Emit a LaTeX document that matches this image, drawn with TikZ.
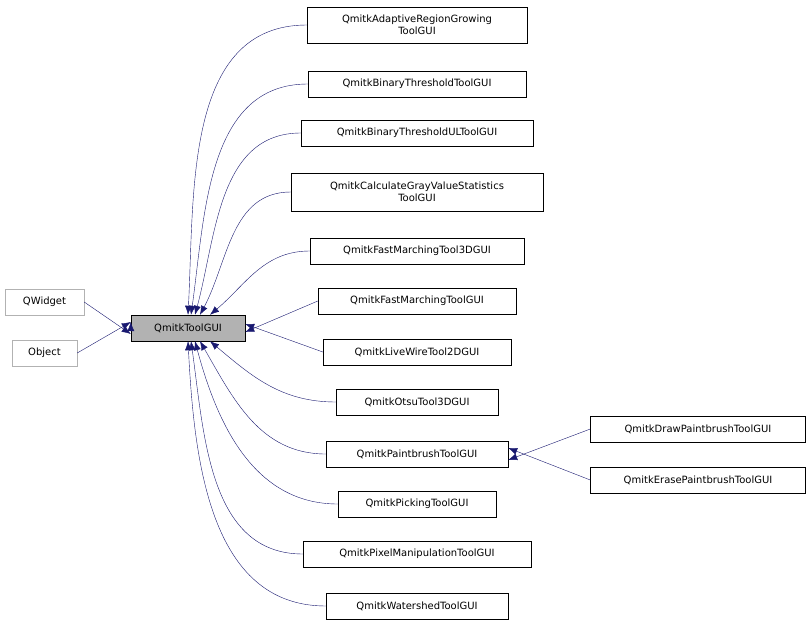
\documentclass[tikz,border=0pt]{standalone}
\usepackage{fontspec}
\setmainfont{DejaVu Sans}
\usetikzlibrary{arrows.meta}
\definecolor{edgeblue}{HTML}{191970}

\begin{document}
\begin{tikzpicture}[x=1pt,y=-1pt,
    every node/.style={draw, inner sep=0pt, font=\fontsize{10}{12}\selectfont, align=center, minimum height=26pt},
    ext/.style={draw=gray!60},
    edge/.style={draw=edgeblue, -{Latex[length=9pt,width=7pt]}}]
    \useasboundingbox (0,0) rectangle (812,626);
    \node[ext, minimum width=79pt] (qwidget) at (44.5,302) {QWidget};
    \node[ext, minimum width=65pt] (object) at (44.5,353) {Object};
    \node[fill=gray!60, minimum width=114pt] (tool) at (188,328) {QmitkToolGUI};
    \node[minimum width=220pt, minimum height=36pt] (adaptive) at (417,25) {QmitkAdaptiveRegionGrowing\\ToolGUI};
    \node[minimum width=218pt] (binary) at (417,84) {QmitkBinaryThresholdToolGUI};
    \node[minimum width=232pt] (binaryul) at (417,133) {QmitkBinaryThresholdULToolGUI};
    \node[minimum width=252pt, minimum height=38pt] (calc) at (417,192) {QmitkCalculateGrayValueStatistics\\ToolGUI};
    \node[minimum width=214pt] (fm3d) at (417,251) {QmitkFastMarchingTool3DGUI};
    \node[minimum width=198pt] (fm) at (417,301) {QmitkFastMarchingToolGUI};
    \node[minimum width=188pt] (livewire) at (417,352) {QmitkLiveWireTool2DGUI};
    \node[minimum width=162pt] (otsu) at (417,402) {QmitkOtsuTool3DGUI};
    \node[minimum width=182pt] (paint) at (417,454) {QmitkPaintbrushToolGUI};
    \node[minimum width=158pt] (picking) at (417,504) {QmitkPickingToolGUI};
    \node[minimum width=228pt] (pixel) at (417,554) {QmitkPixelManipulationToolGUI};
    \node[minimum width=182pt] (water) at (417,606) {QmitkWatershedToolGUI};
    \node[minimum width=215pt] (draw) at (698,429) {QmitkDrawPaintbrushToolGUI};
    \node[minimum width=215pt] (erase) at (698,480) {QmitkErasePaintbrushToolGUI};

    \draw[edge] (tool.west) ++(0,-6) coordinate (tq);
    \draw[edge] (qwidget.east) -- ([yshift=-6pt]tool.west);
    \draw[edge] (object.east) -- ([yshift=6pt]tool.west);
    \draw[edge] (adaptive.west) to[out=180,in=87] ([xshift=0pt]tool.north);
    \draw[edge] (binary.west) to[out=180,in=82] ([xshift=3pt]tool.north);
    \draw[edge] (binaryul.west) to[out=180,in=75] ([xshift=7pt]tool.north);
    \draw[edge] (calc.west) to[out=180,in=62] ([xshift=12pt]tool.north);
    \draw[edge] (fm3d.west) to[out=180,in=40] ([xshift=22pt]tool.north);
    \draw[edge] (fm.west) -- ([yshift=-4pt]tool.east);
    \draw[edge] (livewire.west) -- ([yshift=4pt]tool.east);
    \draw[edge] (otsu.west) to[out=180,in=-40] ([xshift=22pt]tool.south);
    \draw[edge] (paint.west) to[out=180,in=-60] ([xshift=12pt]tool.south);
    \draw[edge] (picking.west) to[out=180,in=-75] ([xshift=7pt]tool.south);
    \draw[edge] (pixel.west) to[out=180,in=-82] ([xshift=3pt]tool.south);
    \draw[edge] (water.west) to[out=180,in=-87] ([xshift=0pt]tool.south);
    \draw[edge] (draw.west) -- ([yshift=-6pt]paint.east);
    \draw[edge] (erase.west) -- ([yshift=6pt]paint.east);
\end{tikzpicture}
\end{document}
